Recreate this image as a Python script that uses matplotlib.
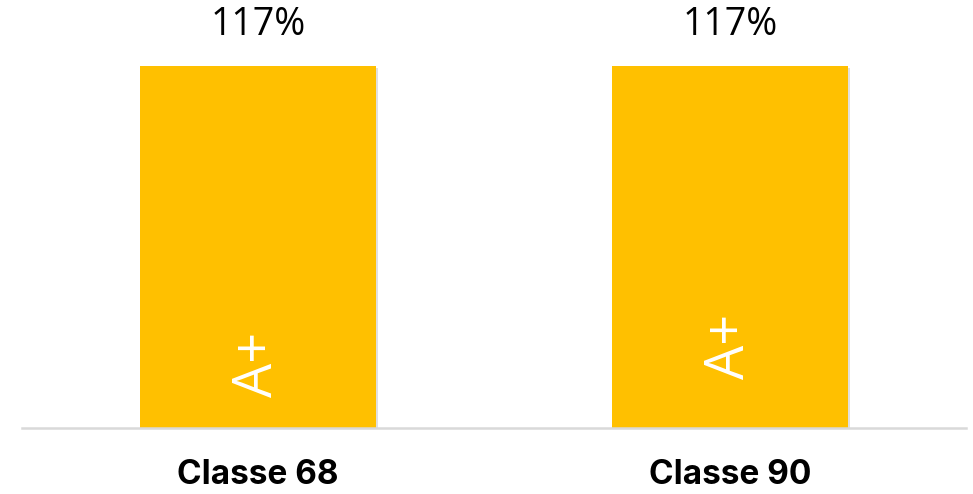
import matplotlib
matplotlib.use("Agg")
import matplotlib.pyplot as plt
import matplotlib.patheffects as pe

categories = ["Classe 68", "Classe 90"]
values = [117, 117]
value_labels = ["117%", "117%"]
inner_labels = ["A+", "A+"]

plt.rcParams['font.family'] = ['Inter', 'DejaVu Sans']

fig = plt.figure(figsize=(9.73, 4.94), dpi=100)
ax = fig.add_axes([22/973, (494-428)/494, (966-22)/973, 428/494])

x = range(len(categories))
bars = ax.bar(x, values, width=0.5, color="#FFC000", zorder=2)
for b in bars:
    b.set_path_effects([pe.SimplePatchShadow(offset=(1.5, -1.5), shadow_rgbFace="#000000", alpha=0.12), pe.Normal()])

ax.set_xlim(-0.5, 1.5)
ax.set_ylim(0, 428/362*117)

inner_pos = [20.7, 26.5]
for i, (v, vl, il) in enumerate(zip(values, value_labels, inner_labels)):
    ax.annotate(vl, (i, v), xytext=(0, 16), textcoords="offset points",
                ha="center", va="bottom", fontsize=27, color="#000000",
                family=["Open Sans", "DejaVu Sans"], annotation_clip=False)
    ax.text(i, inner_pos[i], il, rotation=90, ha="center", va="center",
            fontsize=39, color="white", zorder=3,
            family=["Open Sans", "DejaVu Sans"])

ax.set_xticks(list(x))
ax.set_xticklabels(categories, fontsize=24, fontweight="bold")
ax.tick_params(axis="x", length=0, pad=22)
ax.set_yticks([])
for s in ["top", "right", "left"]:
    ax.spines[s].set_visible(False)
ax.spines["bottom"].set_color("#D9D9D9")
ax.spines["bottom"].set_linewidth(1.8)
ax.spines["bottom"].set_zorder(3)

fig.savefig("out.png", dpi=100)
